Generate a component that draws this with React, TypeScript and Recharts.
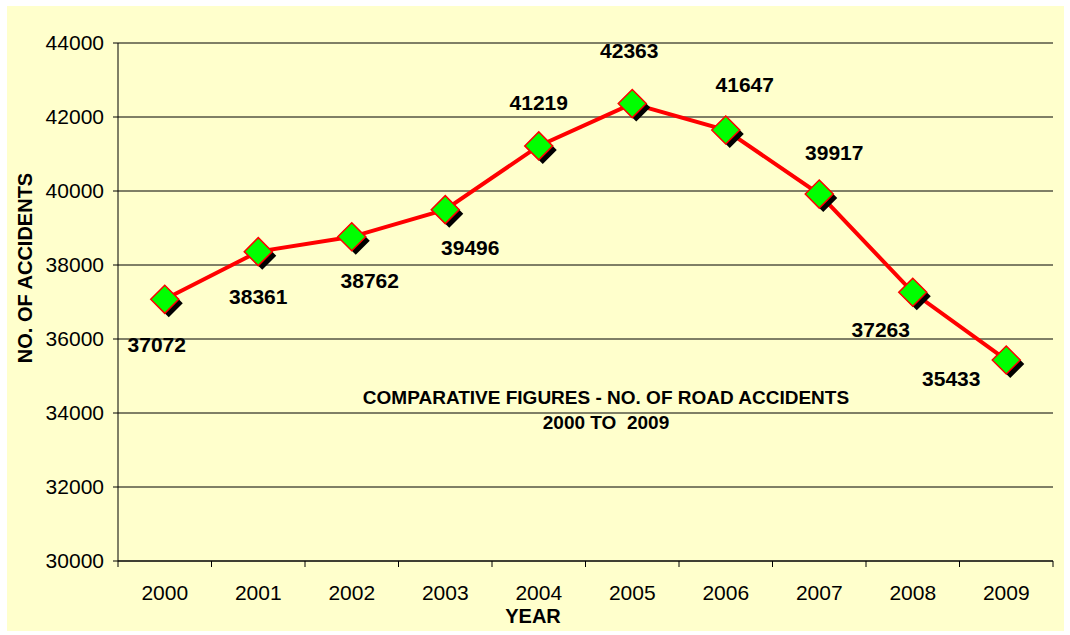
import * as React from 'react';
import { LineChart, Line, XAxis, YAxis, CartesianGrid, LabelList, Label } from 'recharts';

// Road accidents per year
const years = ['2000', '2001', '2002', '2003', '2004', '2005', '2006', '2007', '2008', '2009'];
const accidents = [37072, 38361, 38762, 39496, 41219, 42363, 41647, 39917, 37263, 35433];
const yTicks = [30000, 32000, 34000, 36000, 38000, 40000, 42000, 44000];

// where each value label sits relative to its marker
const labelOffsets = [
	[-8, 45], [0, 45], [18, 44], [25, 38], [0, -43],
	[-3, -53], [19, -46], [15, -42], [-32, 37], [-55, 19],
];

const data = years.map((year, i) => ({ year, accidents: accidents[i] }));

const W = 1057;
const H = 625;
const margin = { top: 37, right: 11, bottom: 30, left: 0 };
const band = (W - 111 - margin.right) / years.length;
const font = 'Arial, "Liberation Sans", sans-serif';

function Diamond(props) {
	const { cx, cy } = props;
	if (cx == null || cy == null) return null;
	const r = 14;
	const pts = (dx, dy) =>
		`${cx + dx},${cy + dy - r} ${cx + dx + r},${cy + dy} ${cx + dx},${cy + dy + r} ${cx + dx - r},${cy + dy}`;
	return (
		<g>
			<polygon points={pts(4, 4)} fill="#000000" />
			<polygon points={pts(0, 0)} fill="#00FF00" stroke="#FF0000" strokeWidth={1.5} />
		</g>
	);
}

function YearTick(props) {
	const { x, y, payload, index } = props;
	return (
		<g>
			<line x1={x - band / 2} x2={x - band / 2} y1={y - 8} y2={y - 2} stroke="#000" />
			{index === years.length - 1 && (
				<line x1={x + band / 2} x2={x + band / 2} y1={y - 8} y2={y - 2} stroke="#000" />
			)}
			<text x={x} y={y + 23} textAnchor="middle" dominantBaseline="central" fontSize={21} fontFamily={font} fill="#000">
				{payload.value}
			</text>
		</g>
	);
}

function ValueLabel(props) {
	const { x, y, value, index } = props;
	const [dx, dy] = labelOffsets[index];
	return (
		<text x={x + dx} y={y + dy} textAnchor="middle" dominantBaseline="central" fontSize={21} fontWeight="bold" fontFamily={font} fill="#000">
			{value}
		</text>
	);
}

export default function App() {
	return (
		<div style={{ position: 'absolute', left: 7, top: 6, width: W, height: H, background: '#FFFFCC' }}>
			<LineChart width={W} height={H} data={data} margin={margin}>
				<CartesianGrid horizontal vertical={false} stroke="#000" />
				<XAxis
					dataKey="year"
					tick={<YearTick />}
					tickLine={false}
					axisLine={{ stroke: '#000' }}
					height={40}
					interval={0}
					padding={{ left: band / 2, right: band / 2 }}
				>
					<Label
						content={({ viewBox }) => (
							<text x={viewBox.x + 415} y={viewBox.y + 55} textAnchor="middle" dominantBaseline="central" fontSize={20} fontWeight="bold" fontFamily={font} fill="#000">
								YEAR
							</text>
						)}
					/>
				</XAxis>
				<YAxis
					domain={[30000, 44000]}
					ticks={yTicks}
					width={111}
					tickSize={5}
					tickMargin={9}
					tick={{ fontSize: 21, fill: '#000', fontFamily: font }}
					tickLine={{ stroke: '#000' }}
					axisLine={{ stroke: '#000' }}
					interval={0}
				>
					<Label
						content={({ viewBox }) => {
							const cx = viewBox.x + 18;
							const cy = viewBox.y + viewBox.height / 2 - 34;
							return (
								<text x={cx} y={cy} transform={`rotate(-90 ${cx} ${cy})`} textAnchor="middle" dominantBaseline="central" fontSize={20} fontWeight="bold" fontFamily={font} fill="#000">
									NO. OF ACCIDENTS
								</text>
							);
						}}
					/>
				</YAxis>
				<YAxis yAxisId="r" orientation="right" width={0} tick={false} tickLine={false} axisLine={{ stroke: '#808080' }} />
				<Line
					type="linear"
					dataKey="accidents"
					stroke="#FF0000"
					strokeWidth={4}
					dot={<Diamond />}
					activeDot={false}
					isAnimationActive={false}
				>
					<LabelList dataKey="accidents" content={<ValueLabel />} />
				</Line>
				<text x={599} y={391} textAnchor="middle" dominantBaseline="central" fontSize={19} fontWeight="bold" fontFamily={font} fill="#000">
					COMPARATIVE FIGURES - NO. OF ROAD ACCIDENTS
				</text>
				<text x={599} y={416} textAnchor="middle" dominantBaseline="central" fontSize={19} fontWeight="bold" fontFamily={font} fill="#000" style={{ whiteSpace: 'pre' }}>
					2000 TO  2009
				</text>
			</LineChart>
		</div>
	);
}
